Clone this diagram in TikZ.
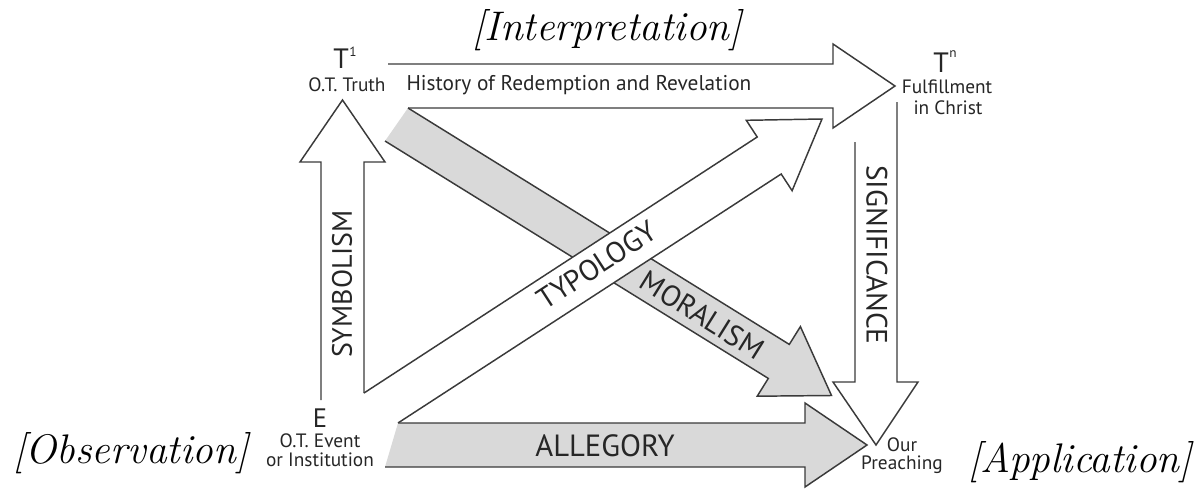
\documentclass[tikz,border=0pt]{standalone}
\usepackage{fontspec}
\newfontfamily\dia{PT Sans}
\definecolor{ln}{HTML}{3A3A3A}
\definecolor{txt}{HTML}{262626}
\definecolor{gfill}{HTML}{D9D9D9}
\tikzset{
  lbl/.style={font=\dia\fontsize{14.5}{15}\selectfont, text=txt, inner sep=0pt, align=center},
  sup/.style={font=\dia\fontsize{10}{10}\selectfont, text=txt, inner sep=0pt},
  big/.style={font=\dia\fontsize{22}{24}\selectfont, text=txt, inner sep=0pt},
  hist/.style={font=\dia\fontsize{16}{17}\selectfont, text=txt, inner sep=0pt},
  letter/.style={font=\dia\fontsize{21}{22}\selectfont, text=txt, inner sep=0pt},
  hand/.style={font=\rmfamily\itshape\fontsize{31}{33}\selectfont, text=black, inner sep=0pt},
  edge/.style={draw=ln, line width=1.1pt, line join=miter},
}
\begin{document}
\begin{tikzpicture}[x=0.75pt,y=-0.75pt]
\useasboundingbox (0,0) rectangle (1203,489);
% moralism (gray, under typology)
\fill[gfill] (408,108) -- (789.3,344.4) -- (800.4,326.6) -- (831.5,395.5) -- (757.2,396.2) -- (768.3,378.4) -- (385,141) -- cycle;
\draw[edge] (408,108) -- (789.3,344.4) -- (800.4,326.6) -- (831.5,395.5) -- (757.2,396.2) -- (768.3,378.4) -- (385,141);
% typology (white, on top)
\fill[white] (364,393) -- (757.2,137) -- (746.3,120.3) -- (822,119) -- (792.1,190.7) -- (781.2,174) -- (398,423) -- cycle;
\draw[edge] (364,393) -- (757.2,137) -- (746.3,120.3) -- (822,119) -- (792.1,190.7) -- (781.2,174) -- (398,423);
% history
\draw[edge] (388,64) -- (833,64) -- (833,44) -- (895,86) -- (833,128) -- (833,108) -- (408,108);
% symbolism
\draw[edge] (321,400) -- (321,162) -- (300,162) -- (342.5,100) -- (385,162) -- (364,162) -- (364,393);
% significance
\draw[edge] (855,142) -- (855,382) -- (833,382) -- (876,445) -- (918,382) -- (897,382) -- (897,102);
% allegory
\fill[gfill] (398,423) -- (805,423) -- (805,403) -- (867,445) -- (805,487) -- (805,467) -- (385,467) -- cycle;
\draw[edge] (398,423) -- (805,423) -- (805,403) -- (867,445) -- (805,487) -- (805,467) -- (385,467);

% arrow labels
\node[hist] (histtxt) at (579,85) {History of Redemption and Revelation};
\node[big, rotate=33] (typ) at (597,265) {TYPOLOGY};
\node[big, rotate=-32] (mor) at (702,315) {MORALISM};
\node[big, font=\dia\fontsize{23}{24}\selectfont] (all) at (605,446) {ALLEGORY};
\node[big, rotate=-90] (sig) at (877,255) {SIGNIFICANCE};
\node[big, rotate=90, font=\dia\fontsize{21}{22}\selectfont] (sym) at (342,284) {SYMBOLISM};

% corner labels
\node[letter, anchor=base west] (t1) at (333,68) {T};
\node[sup, anchor=north west] (t1sup) at ([xshift=0pt,yshift=1pt]t1.north east) {1};
\node[lbl] (otruth) at (347,85) {O.T. Truth};
\node[letter, anchor=base west] (tn) at (933,72) {T};
\node[sup, anchor=north west] (tnsup) at ([xshift=0pt,yshift=1pt]tn.north east) {n};
\node[lbl] (fulf) at (947,87) {Fulfillment};
\node[lbl] (inchr) at (948,108) {in Christ};
\node[letter, font=\dia\fontsize{20}{21}\selectfont] (e) at (320,418) {E};
\node[lbl] (otev) at (320,441) {O.T. Event};
\node[lbl] (orinst) at (320,460) {or Institution};
\node[lbl] (our) at (902,445) {Our};
\node[lbl] (preach) at (902,465) {Preaching};

% handwritten labels
\node[hand] (interp) at (607,30) {[Interpretation]};
\node[hand] (obs) at (131,453) {[Observation]};
\node[hand] (appl) at (1080,462) {[Application]};
\end{tikzpicture}
\end{document}
